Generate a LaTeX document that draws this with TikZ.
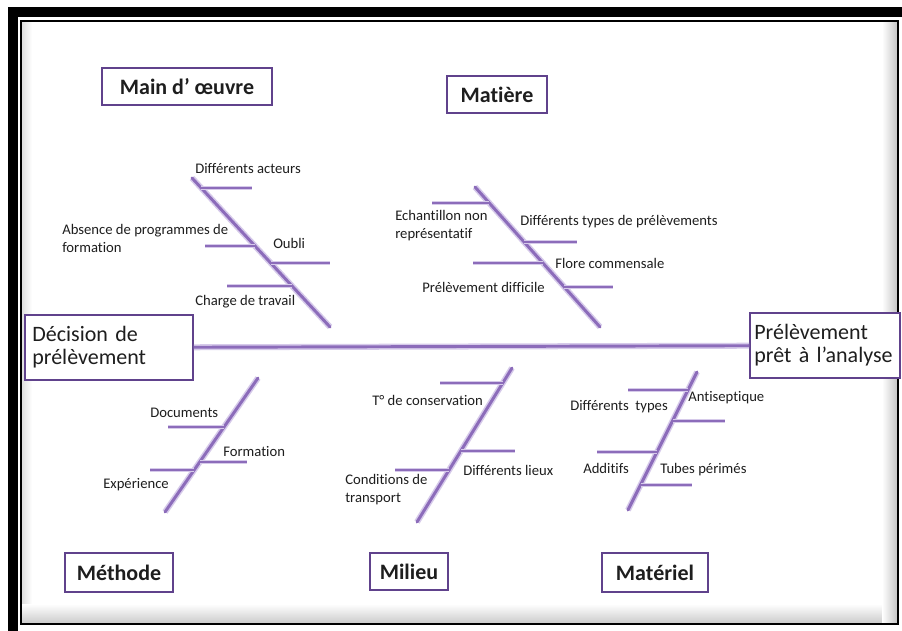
\documentclass[tikz,border=0pt]{standalone}
\usepackage{fontspec}
\setmainfont{Carlito}[Ligatures={NoCommon,NoContextual}]
\usepackage{xcolor}
\definecolor{bonec}{RGB}{140,108,186}
\definecolor{glowc}{RGB}{214,202,234}
\definecolor{boxc}{RGB}{96,66,140}
\definecolor{txtc}{RGB}{30,30,30}
\tikzset{
    BN/.style ={line width=2.2pt, draw=bonec, line cap=round, preaction={draw=glowc, line width=4.5pt}},
    BR/.style ={line width=1.8pt, draw=bonec, preaction={draw=glowc, line width=3.6pt}},
    BX/.style ={rectangle, draw=boxc, line width=1.2pt, fill=white, text=txtc, font=\bfseries\fontsize{16.5}{18}\selectfont, inner sep=0pt},
    BG/.style ={rectangle, draw=boxc, line width=1.2pt, fill=white, text=txtc, align=left, font=\fontsize{16.5}{17.25}\selectfont, inner ysep=0pt},
    LB/.style ={anchor=west, inner sep=0pt, text=txtc, align=left, font=\fontsize{11}{13.5}\selectfont}
}

\begin{document}
\begin{tikzpicture}[x=0.75pt,y=-0.75pt]
            \useasboundingbox (0,0) rectangle (902,631);
            \fill[white] (0,0) rectangle (902,631);
            % frame
            \draw[line width=7.5pt] (12.5,12.5) rectangle (914,636);
            \shade[left color=gray!25, right color=white] (22,22) rectangle (32,623);
            \shade[top color=white, bottom color=gray!40] (22,604) rectangle (897,623);
            \shade[left color=white, right color=gray!45] (882,22) rectangle (897,623);
            \draw[line width=1.5pt] (21,21) rectangle (898,624);
            % heads
            \node[BG, minimum width=126pt, minimum height=48.75pt, text width=115pt, inner xsep=5.5pt] (dec) at (109,347.5) {Décision de\\prélèvement};
            \node[BG, minimum width=112.5pt, minimum height=48.75pt, text width=106pt, inner xsep=3.25pt] (pret) at (825,345.5) {Prélèvement\\prêt à l’analyse};
            \draw[BN, line cap=butt] (dec) -- (pret);
            % Main d'oeuvre
            \node[BX, minimum width=127.5pt, minimum height=27.75pt] (mo) at (187,86.5) {Main d’ œuvre};
            \draw[BN] (192,178) -- (330,327);
            \draw[BR] (201,188) -- (252,188);
            \draw[BR] (205,246) -- (255,246);
            \draw[BR] (271,263) -- (330,263);
            \draw[BR] (227,286) -- (292,286);
            \node[LB] (mo1) at (195,169) {Différents acteurs};
            \node[LB] (mo2) at (62,238) {Absence de programmes de\\formation};
            \node[LB] (mo3) at (273,243) {Oubli};
            \node[LB] (mo4) at (195,302) {Charge de travail};
            % Matiere
            \node[BX, minimum width=75pt, minimum height=27.75pt] (ma) at (497,94.5) {Matière};
            \draw[BN] (475,187) -- (600,327);
            \draw[BR] (432,203) -- (489,203);
            \draw[BR] (524,242) -- (577,242);
            \draw[BR] (473,263) -- (543,263);
            \draw[BR] (564,287) -- (613,287);
            \node[LB] (ma1) at (395,226) {Echantillon non\\représentatif};
            \node[LB] (ma2) at (520,222) {Différents types de prélèvements};
            \node[LB] (ma3) at (555,263) {Flore commensale};
            \node[LB] (ma4) at (422,287) {Prélèvement difficile};
            % Methode
            \node[BX, minimum width=81pt, minimum height=29pt] (me) at (119,572.5) {Méthode};
            \draw[BN] (258,378) -- (165,512);
            \draw[BR] (168,427) -- (224,427);
            \draw[BR] (200,462) -- (247,462);
            \draw[BR] (150,470) -- (194,470);
            \node[LB] (me1) at (150,413) {Documents};
            \node[LB] (me2) at (223,452) {Formation};
            \node[LB] (me3) at (103,485) {Expérience};
            % Milieu
            \node[BX, minimum width=58.5pt, minimum height=27.75pt] (mi) at (409,571.5) {Milieu};
            \draw[BN] (512,368) -- (417,522);
            \draw[BR] (440,383) -- (503,383);
            \draw[BR] (461,451) -- (515,451);
            \draw[BR] (395,470) -- (449,470);
            \node[LB] (mi1) at (372,400) {T° de conservation};
            \node[LB] (mi2) at (463,470) {Différents lieux};
            \node[LB] (mi3) at (345,490) {Conditions de\\transport};
            % Materiel
            \node[BX, minimum width=79.5pt, minimum height=29pt] (mt) at (655,572.5) {Matériel};
            \draw[BN] (697,372) -- (628,510);
            \draw[BR] (628,390) -- (688,390);
            \draw[BR] (673,421) -- (725,421);
            \draw[BR] (597,452) -- (657,452);
            \draw[BR] (641,485) -- (692,485);
            \node[LB] (mt1) at (570,407) {Différents~ types};
            \node[LB] (mt2) at (688,398) {Antiseptique};
            \node[LB] (mt3) at (583,468) {Additifs};
            \node[LB] (mt4) at (660,470) {Tubes périmés};
\end{tikzpicture}
\end{document}
